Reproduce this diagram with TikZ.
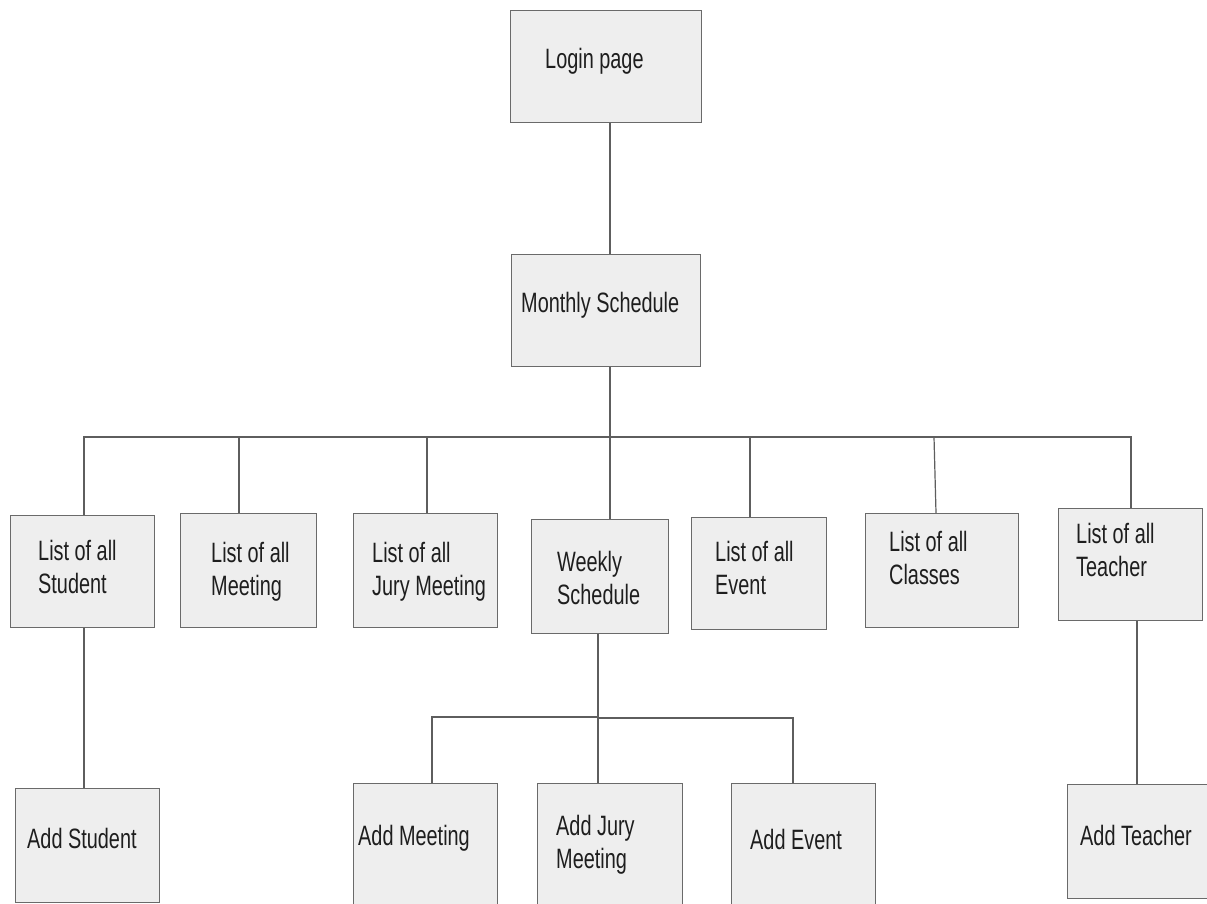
\documentclass[tikz,border=0pt]{standalone}
\usepackage{fontspec}
\newfontfamily\boxfont[FakeStretch=0.71]{Liberation Sans}
\definecolor{boxfill}{HTML}{EEEEEE}
\definecolor{boxline}{HTML}{6A6A6A}
\definecolor{linkc}{HTML}{5E5E5E}
\definecolor{txtc}{HTML}{1E1E1E}
\tikzset{
  box/.style={draw=boxline, fill=boxfill, line width=1.3pt, inner sep=0pt, anchor=north west},
  lbl/.style={font=\boxfont\fontsize{28}{33}\selectfont, align=left, anchor=west, inner sep=0pt, text=txtc},
  link/.style={draw=linkc, line width=1.2pt}
}
\begin{document}
\begin{tikzpicture}[x=1pt,y=-1pt]
\clip (0,0) rectangle (1207,904);
\fill[white] (0,0) rectangle (1207,904);
% boxes
\node[box, minimum width=191pt, minimum height=112pt] (login) at (510,10) {};
\node[box, minimum width=189pt, minimum height=112pt] (monthly) at (511,254) {};
\node[box, minimum width=144pt, minimum height=112pt] (student) at (10,515) {};
\node[box, minimum width=136pt, minimum height=114pt] (meeting) at (180,513) {};
\node[box, minimum width=144pt, minimum height=114pt] (jury) at (353,513) {};
\node[box, minimum width=137pt, minimum height=114pt] (weekly) at (531,519) {};
\node[box, minimum width=135pt, minimum height=112pt] (event) at (691,517) {};
\node[box, minimum width=153pt, minimum height=114pt] (classes) at (865,513) {};
\node[box, minimum width=144pt, minimum height=112pt] (teacher) at (1058,508) {};
\node[box, minimum width=144pt, minimum height=114pt] (addstudent) at (15,788) {};
\node[box, minimum width=144pt, minimum height=123pt] (addmeeting) at (353,783) {};
\node[box, minimum width=145pt, minimum height=123pt] (addjury) at (537,783) {};
\node[box, minimum width=144pt, minimum height=123pt] (addevent) at (731,783) {};
\node[box, minimum width=143pt, minimum height=114pt] (addteacher) at (1067,784) {};
% labels
\node[lbl] (t-login) at (545,61) {Login page};
\node[lbl] (t-monthly) at (521,305) {Monthly Schedule};
\node[lbl] (t-student) at (38,567) {List of all\\Student};
\node[lbl] (t-meeting) at (211,572) {List of all\\Meeting};
\node[lbl] (t-jury) at (372,572) {List of all\\Jury Meeting};
\node[lbl] (t-weekly) at (557,578) {Weekly\\Schedule};
\node[lbl] (t-event) at (715,568) {List of all\\Event};
\node[lbl] (t-classes) at (889,558) {List of all\\Classes};
\node[lbl] (t-teacher) at (1076,550) {List of all\\Teacher};
\node[lbl] (t-addstudent) at (27,838) {Add Student};
\node[lbl] (t-addmeeting) at (358,838) {Add Meeting};
\node[lbl] (t-addjury) at (556,845) {Add Jury\\Meeting};
\node[lbl] (t-addevent) at (750,839) {Add Event};
\node[lbl] (t-addteacher) at (1080,835) {Add Teacher};
% connectors
\draw[link] (login.south -| 610,0) -- (monthly.north -| 610,0);
\draw[link] (monthly.south -| 610,0) -- (weekly.north -| 610,0);
\draw[link] (student.north -| 84,0) -- (84,437) -- (1131,437) -- (teacher.north -| 1131,0);
\draw[link] (239,437) -- (meeting.north -| 239,0);
\draw[link] (427,437) -- (jury.north -| 427,0);
\draw[link] (750,437) -- (event.north -| 750,0);
\draw[link] (934,437) -- (classes.north -| 936,0);
\draw[link] (student.south -| 84,0) -- (addstudent.north -| 84,0);
\draw[link] (teacher.south -| 1137,0) -- (addteacher.north -| 1137,0);
\draw[link] (weekly.south -| 598,0) -- (addjury.north -| 598,0);
\draw[link] (addmeeting.north -| 432,0) -- (432,717) -- (598,717);
\draw[link] (598,718) -- (793,718) -- (addevent.north -| 793,0);
\end{tikzpicture}
\end{document}
